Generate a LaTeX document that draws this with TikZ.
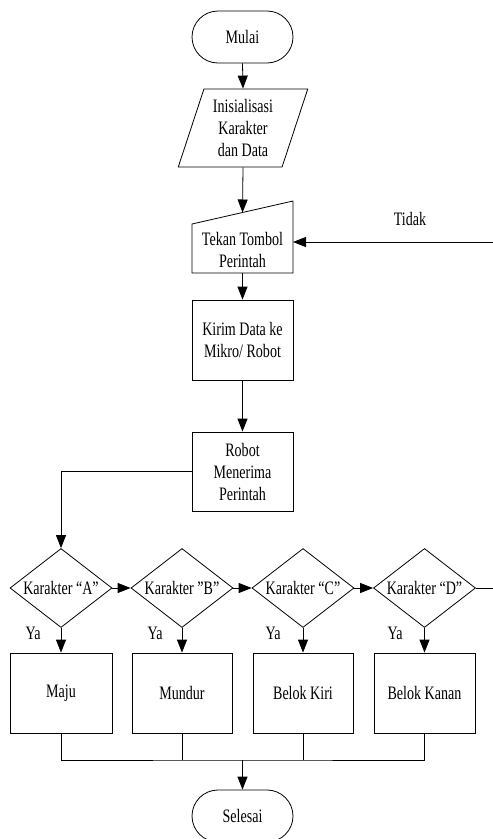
\documentclass[tikz,border=0pt]{standalone}
\usepackage{fontspec}
\setmainfont[FakeStretch=0.74]{Liberation Serif}
\usetikzlibrary{shapes.geometric,shapes.misc,arrows.meta}
\begin{document}
\begin{tikzpicture}[x=1pt,y=-1pt,
  font=\fontsize{19}{22}\selectfont,
  every node/.style={align=center},
  line width=0.8pt,
  arr/.style={-{Triangle[length=13pt,width=10pt]}},
  term/.style={draw, rounded rectangle, minimum width=101pt, minimum height=52pt, inner sep=0pt},
  io/.style={draw, trapezium, trapezium left angle=71, trapezium right angle=109, trapezium stretches=true, minimum width=130pt, minimum height=78pt, inner sep=0pt},
  procbox/.style={draw, rectangle, minimum width=101pt, minimum height=80pt, inner sep=0pt},
  dec/.style={draw, diamond, aspect=1.29, minimum width=102pt, minimum height=79pt, inner sep=0pt},
  lbl/.style={inner sep=0pt}
]
\useasboundingbox (0,0) rectangle (493,839);
\clip (0,0) rectangle (493,839);

\node[term] (mulai) at (242.5,37) {Mulai};
\node[io] (init) at (243,128) {Inisialisasi\\Karakter\\dan Data};

% manual input
\draw (192,273) -- (293,273) -- (293,201) -- (192,224) -- cycle;
\node[lbl] (tekan) at (242.5,250) {Tekan Tombol\\Perintah};
\coordinate (tekanTop) at (242.5,212.5);
\coordinate (tekanBot) at (242.5,273);
\coordinate (tekanR) at (293,242);
\coordinate (tidakEnd) at (493,242);

\node[procbox] (kirim) at (242.5,340) {Kirim Data ke\\Mikro/ Robot};
\node[procbox, minimum height=79pt] (robot) at (242.5,471.5) {Robot\\Menerima\\Perintah};

\node[dec] (dA) at (61,588) {Karakter “A”};
\node[dec] (dB) at (182,588) {Karakter ”B”};
\node[dec] (dC) at (303,588) {Karakter “C”};
\node[dec] (dD) at (424.5,588) {Karakter “D”};
\coordinate (dEnd) at (493,588);

\node[procbox, minimum width=102pt] (bA) at (61,693) {Maju};
\node[procbox, minimum width=100pt] (bB) at (182,693) {Mundur};
\node[procbox, minimum width=100pt] (bC) at (303,693) {Belok Kiri};
\node[procbox, minimum width=101pt] (bD) at (424.5,693) {Belok Kanan};

\node[lbl] (yA) at (33,633) {Ya};
\node[lbl] (yB) at (155,633) {Ya};
\node[lbl] (yC) at (273,633) {Ya};
\node[lbl] (yD) at (395,633) {Ya};

\coordinate (join) at (242.5,760);
\node[term] (sel) at (242.5,816) {Selesai};

\node[lbl] (tidak) at (410,219) {Tidak};

% connectors
\draw[arr] (mulai.south) -- (init.north);
\draw[arr] (init.south) -- (tekanTop);
\draw[arr] (tidakEnd) -- (tekanR);
\draw[arr] (tekanBot) -- (kirim.north);
\draw[arr] (kirim.south) -- (robot.north);
\draw[arr] (robot.west) -| (dA.north);
\draw[arr] (dA.east) -- (dB.west);
\draw[arr] (dB.east) -- (dC.west);
\draw[arr] (dC.east) -- (dD.west);
\draw (dD.east) -- (dEnd);
\draw[arr] (dA.south) -- (bA.north);
\draw[arr] (dB.south) -- (bB.north);
\draw[arr] (dC.south) -- (bC.north);
\draw[arr] (dD.south) -- (bD.north);
\draw (bA.south) |- (join) -| (bD.south);
\draw (bB.south) -- (bB.south |- join);
\draw (bC.south) -- (bC.south |- join);
\draw[arr] (join) -- (sel.north);
\end{tikzpicture}
\end{document}
